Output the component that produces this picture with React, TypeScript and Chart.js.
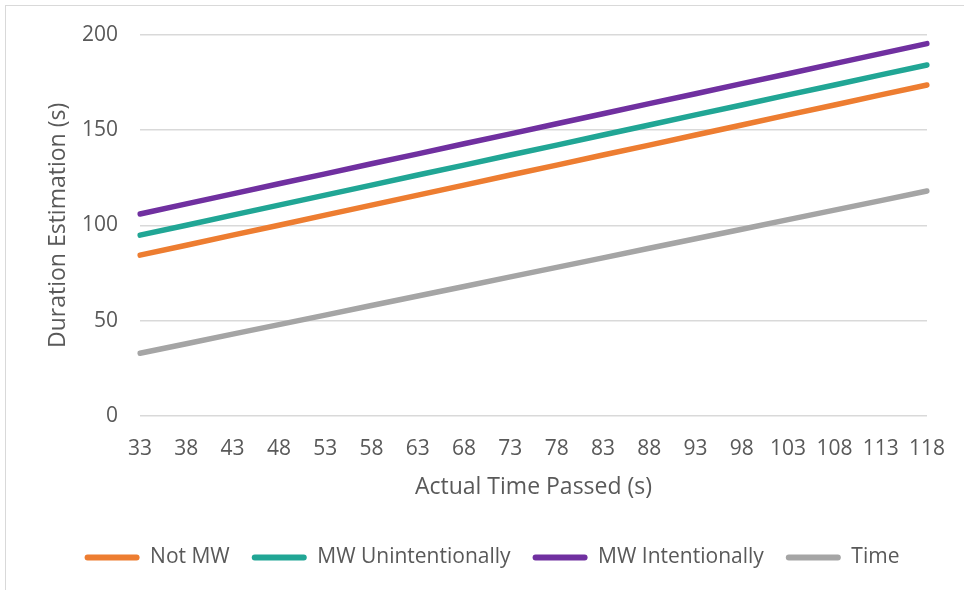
import React, { useEffect, useRef } from "react";
import { Chart, registerables } from "chart.js";

Chart.register(...registerables);

// Elapsed time in seconds (category axis)
const timePassed = [33, 38, 43, 48, 53, 58, 63, 68, 73, 78, 83, 88, 93, 98, 103, 108, 113, 118];

// Estimated durations per group (s)
const notMW = [84.4, 89.6, 94.9, 100.1, 105.4, 110.6, 115.9, 121.1, 126.4, 131.6, 136.9, 142.1, 147.4, 152.6, 157.9, 163.1, 168.4, 173.6];
const mwUnintentionally = [94.9, 100.1, 105.4, 110.6, 115.9, 121.1, 126.4, 131.6, 136.9, 142.1, 147.4, 152.6, 157.9, 163.1, 168.4, 173.6, 178.9, 184.1];
const mwIntentionally = [106.0, 111.3, 116.5, 121.8, 127.0, 132.3, 137.5, 142.8, 148.0, 153.3, 158.5, 163.8, 169.0, 174.3, 179.5, 184.8, 190.0, 195.3];
const actualTime = [33, 38, 43, 48, 53, 58, 63, 68, 73, 78, 83, 88, 93, 98, 103, 108, 113, 118];

const seriesNames = ["Not MW", "MW Unintentionally", "MW Intentionally", "Time"];
const seriesColors = ["#ED7D31", "#21A695", "#7030A0", "#A5A5A5"];

const FONT = "'Open Sans', sans-serif";
const TEXT = "#595959";

// Nudges the bottom legend a few pixels to the right after layout
const legendShift = {
  id: "legendShift",
  afterLayout(chart: any) {
    if (chart.legend) {
      chart.legend.left += 6;
      chart.legend.right += 6;
    }
  },
};

export default function App() {
  const canvasRef = useRef<HTMLCanvasElement | null>(null);

  useEffect(() => {
    if (!canvasRef.current) return;
    const values = [notMW, mwUnintentionally, mwIntentionally, actualTime];
    const chart = new Chart(canvasRef.current, {
      type: "line",
      data: {
        labels: timePassed.map(String),
        datasets: values.map((v, i) => ({
          label: seriesNames[i],
          data: v,
          borderColor: seriesColors[i],
          backgroundColor: seriesColors[i],
          borderWidth: 5.5,
          borderCapStyle: "round" as const,
          borderJoinStyle: "round" as const,
          pointRadius: 0,
          pointHoverRadius: 0,
          tension: 0,
          fill: false,
        })),
      },
      plugins: [legendShift],
      options: {
        animation: false,
        responsive: false,
        maintainAspectRatio: false,
        layout: { padding: { left: 45, top: 16, right: 37, bottom: 12 } },
        plugins: {
          tooltip: { enabled: false },
          legend: {
            position: "bottom",
            labels: {
              font: { family: FONT, size: 21 },
              color: TEXT,
              boxWidth: 55,
              boxHeight: 6,
              padding: 22,
              useBorderRadius: true,
              borderRadius: 3,
              generateLabels: (c: any) =>
                c.data.datasets.map((ds: any, i: number) => ({
                  text: ds.label,
                  fillStyle: ds.borderColor,
                  strokeStyle: ds.borderColor,
                  lineWidth: 0,
                  fontColor: TEXT,
                  hidden: false,
                  datasetIndex: i,
                  borderRadius: 3,
                })),
            },
          },
        },
        scales: {
          x: {
            offset: false,
            grid: { display: false },
            border: { display: false },
            ticks: {
              font: { family: FONT, size: 21 },
              color: TEXT,
              padding: 12,
              maxRotation: 0,
              autoSkip: false,
            },
            title: {
              display: true,
              text: "Actual Time Passed (s)",
              font: { family: FONT, size: 23 },
              color: TEXT,
              padding: { top: 0, bottom: 24 },
            },
          },
          y: {
            min: 0,
            max: 200,
            afterFit: (scale: any) => {
              scale.width = 95;
            },
            grid: { color: "#D9D9D9", lineWidth: 1.5, drawTicks: false },
            border: { display: false },
            ticks: {
              stepSize: 50,
              font: { family: FONT, size: 21 },
              color: TEXT,
              padding: 22,
            },
            title: {
              display: true,
              text: "Duration Estimation (s)",
              font: { family: FONT, size: 23 },
              color: TEXT,
              padding: { top: 0, bottom: 6 },
            },
          },
        },
      },
    });
    return () => chart.destroy();
  }, []);

  return (
    <div style={{ position: "absolute", left: 0, top: 0, width: 964, height: 590, background: "#fff", overflow: "hidden" }}>
      <div
        style={{
          position: "absolute",
          left: 5,
          top: 5,
          width: 1000,
          height: 640,
          borderTop: "1.5px solid #D9D9D9",
          borderLeft: "1.5px solid #D9D9D9",
        }}
      />
      <canvas ref={canvasRef} width={964} height={590} style={{ position: "absolute", left: 0, top: 0 }} />
    </div>
  );
}
